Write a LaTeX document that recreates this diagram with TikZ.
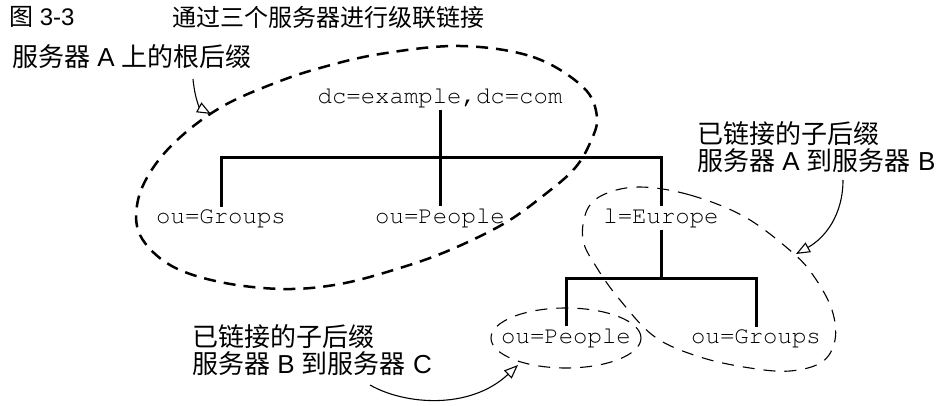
\documentclass[tikz,border=0pt]{standalone}
\usepackage[T1]{fontenc}
\usepackage{fontspec}
\setmainfont{Liberation Sans}
\newfontfamily\cjk{Noto Sans CJK SC}
\usetikzlibrary{arrows.meta}
\newcommand\codefont{\fontencoding{T1}\fontfamily{pcr}\fontsize{24}{24}\selectfont}
\tikzset{
  code/.style={font=\codefont, inner sep=2pt},
  lab/.style={font=\fontsize{26}{27}\selectfont, anchor=west, align=left, inner sep=0pt},
  ttl/.style={font=\fontsize{24}{24}\selectfont, anchor=west, inner sep=0pt},
  tree/.style={line width=3pt},
  bigdash/.style={line width=2.5pt, dash pattern=on 12pt off 8pt},
  thindash/.style={line width=1.1pt, dash pattern=on 12pt off 9pt},
  callout/.style={line width=1.1pt, -{Triangle[open,length=14pt,width=11pt]}}
}
\begin{document}
\begin{tikzpicture}[x=1pt,y=-1pt]
\useasboundingbox (0,0) rectangle (948,406);
% title
\node[ttl] (fig) at (9,17) {{\cjk 图} 3-3};
\node[ttl] (title) at (172,17) {\cjk 通过三个服务器进行级联链接};
% tree nodes
\node[code] (root) at (440,98) {dc=example,dc=com};
\node[code] (g1) at (221,218) {ou=Groups};
\node[code] (p1) at (440,218) {ou=People};
\node[code] (eu) at (661,218) {l=Europe};
\node[code] (p2) at (566,338) {ou=People};
\node[code] (g2) at (756,338) {ou=Groups};
\coordinate (j1) at (440,158);
\coordinate (j2) at (661,278);
\draw[tree] (root.south) -- (j1) -- (p1.north);
\draw[tree] (g1.north) |- (j1) -| (eu.north);
\draw[tree] (eu.south) -- (j2);
\draw[tree] (p2.north) |- (j2) -| (g2.north);
% suffix outlines
\draw[bigdash] plot[smooth cycle, tension=0.6] coordinates {
 (460,46) (533,57) (583,87) (597,117) (590,143) (575,168) (548,192) (505,223)
 (450,250) (400,268) (340,284) (283,289) (220,282) (170,265) (140,235) (138,200)
 (155,165) (185,133) (225,105) (275,83) (320,68) (380,54)};
\draw[thindash] plot[smooth cycle, tension=0.6] coordinates {
 (640,187) (690,195) (745,217) (793,253) (815,278) (832,310) (835,340) (822,362)
 (790,371) (750,368) (700,357) (655,337) (620,300) (597,268) (583,240) (587,210) (605,194)};
\draw[thindash] (p2) ellipse [x radius=75pt, y radius=30pt];
% labels
\node[lab] (la) at (12,57) {{\cjk 服务器} A {\cjk 上的根后缀}};
\node[lab] (lb) at (697,147) {{\cjk 已链接的子后缀}\\{\cjk 服务器} A {\cjk 到服务器} B};
\node[lab] (lc) at (192,350) {{\cjk 已链接的子后缀}\\{\cjk 服务器} B {\cjk 到服务器} C};
% callouts
\coordinate (sA) at (193,79);
\coordinate (tA) at (211,114);
\coordinate (sB) at (843,180);
\coordinate (tB) at (796,254);
\coordinate (sC) at (370,385);
\coordinate (tC) at (518,365);
\draw[callout] (sA) .. controls (195,100) and (200,108) .. (tA);
\draw[callout] (sB) .. controls (843,215) and (825,238) .. (tB);
\draw[callout] (sC) .. controls (405,405) and (470,410) .. (tC);
\end{tikzpicture}
\end{document}
